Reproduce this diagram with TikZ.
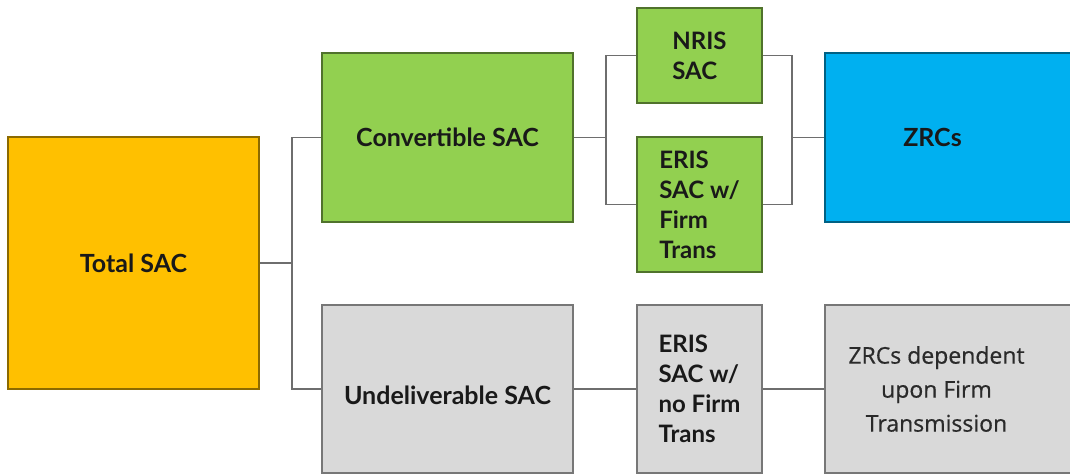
\documentclass[tikz,border=0pt]{standalone}
\usepackage{fontspec}
\setmainfont{Lato}
\newfontfamily\plainfont[FakeBold=0.6]{Open Sans}
\definecolor{sacorange}{HTML}{FFC000}
\definecolor{sacgreen}{HTML}{92D050}
\definecolor{sacblue}{HTML}{00B0F0}
\definecolor{sacgray}{HTML}{D9D9D9}
\definecolor{linkgray}{HTML}{6E6E6E}
\definecolor{darktext}{HTML}{2A2A2A}
\tikzset{
  box/.style={draw=#1!55!black,fill=#1,line width=1.5pt,inner sep=0pt,
    font=\fontsize{24}{30}\selectfont\bfseries,text=black!90},
  bigtext/.style={font=\fontsize{25}{30}\selectfont\bfseries},
  link/.style={draw=linkgray,line width=1.8pt},
}

\begin{document}
\begin{tikzpicture}[x=1pt,y=-1pt]
			\useasboundingbox[fill=white] (0,0) rectangle (1070,474);
			\clip (0,0) rectangle (1070,474);
			\node[box=sacorange,bigtext,minimum width=251pt,minimum height=252pt] (total) at (133.5,263) {Total SAC};
			\node[box=sacgreen,bigtext,minimum width=251pt,minimum height=169pt] (conv) at (447.5,137.5) {Convertible SAC};
			\node[box=sacgray,bigtext,minimum width=251pt,minimum height=168pt,text height=32pt] (und) at (447.5,389) {Undeliverable SAC};
			\node[box=sacgreen,minimum width=125pt,minimum height=95pt,align=left] (nris) at (699.5,55.5) {NRIS\\SAC};
			\node[box=sacgreen,minimum width=125pt,minimum height=135pt,align=left] (erisf) at (699.5,204.5) {ERIS\\SAC w/\\Firm\\Trans};
			\node[box=sacgray,minimum width=125pt,minimum height=168pt,align=left] (erisn) at (699.5,389) {ERIS\\SAC w/\\no Firm\\Trans};
			\node[box=sacblue,minimum width=285pt,minimum height=169pt,
			  label={[xshift=-35pt,bigtext,text=black!90]center:ZRCs}] (zrc) at (967.5,137.5) {};
			\node[box=sacgray,minimum width=285pt,minimum height=168pt,
			  label={[xshift=-31pt,align=center,text=darktext,font=\plainfont\fontsize{23}{34}\selectfont]center:ZRCs dependent\\upon Firm\\Transmission}] (zrcd) at (967.5,389) {};
			\draw[link] (total.east) -- ++(32,0) |- (conv.west);
			\draw[link] (total.east) ++(32,0) |- (und.west);
			\draw[link] (conv.east) -- ++(32,0) |- (nris.west);
			\draw[link] (conv.east) ++(32,0) |- (erisf.west);
			\draw[link] (zrc.west) -- ++(-32,0) |- (nris.east);
			\draw[link] (zrc.west) ++(-32,0) |- (erisf.east);
			\draw[link] (und.east) -- (erisn.west);
			\draw[link] (erisn.east) -- (zrcd.west);
		\end{tikzpicture}
\end{document}
